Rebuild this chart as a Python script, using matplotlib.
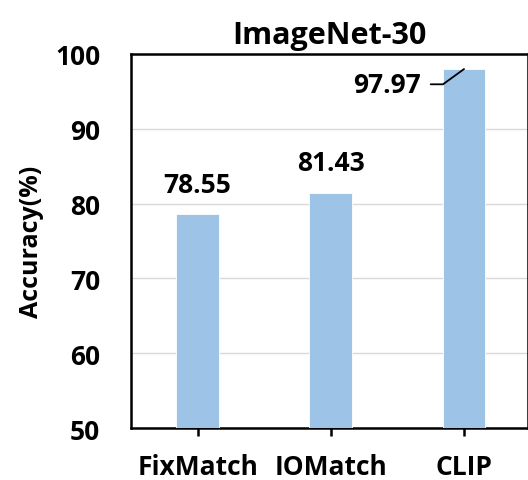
import matplotlib
matplotlib.use("Agg")
import matplotlib.pyplot as plt

categories = ["FixMatch", "IOMatch", "CLIP"]
values = [78.55, 81.43, 97.97]
labels = ["78.55", "81.43", "97.97"]
yticks = [50, 60, 70, 80, 90, 100]

plt.rcParams['font.family'] = ['Open Sans', 'DejaVu Sans']
plt.rcParams['font.weight'] = 'bold'
FS = 19

fig = plt.figure(figsize=(5.28, 4.81), dpi=100)
ax = fig.add_axes([0.248, 0.108, 0.752, 0.778])

x = list(range(len(categories)))
ax.bar(x, values, width=0.32, color='#9DC3E6', edgecolor='white', linewidth=0.6, zorder=3)
ax.set_xlim(-0.5, 2.48)
ax.set_ylim(50, 100)
ax.set_yticks(yticks)
ax.set_yticklabels([str(t) for t in yticks], fontsize=FS, fontweight='bold')
ax.set_xticks(x)
ax.set_xticklabels(categories, fontsize=FS, fontweight='bold')
ax.tick_params(axis='y', length=0, pad=22)
ax.tick_params(axis='x', length=6, width=1.8, direction='out', pad=12)
ax.yaxis.grid(True, color='#d9d9d9', linewidth=1, zorder=0)
for s in ax.spines.values():
    s.set_linewidth(1.8)
    s.set_color('black')
ax.set_ylabel("Accuracy(%)", fontsize=FS - 1, fontweight='bold', labelpad=8)
ax.set_title("ImageNet-30", fontsize=22, fontweight='bold', pad=8)

for i in range(2):
    ax.annotate(labels[i], (x[i], values[i]), xytext=(0, 12), textcoords='offset points',
                ha='center', va='bottom', fontsize=FS, fontweight='bold')

# leader label for last bar
ax.annotate(labels[2], xy=(x[2], values[2]), xytext=(-31, -11), textcoords='offset points',
            ha='right', va='center', fontsize=FS, fontweight='bold', zorder=5)
ax.annotate("", xy=(x[2], values[2]), xytext=(-24, -11), textcoords='offset points',
            arrowprops=dict(arrowstyle='-', color='black', lw=1.3, shrinkA=0, shrinkB=0,
                            connectionstyle='angle,angleA=0,angleB=36,rad=0'), zorder=5)

fig.savefig("out.png", dpi=100)
